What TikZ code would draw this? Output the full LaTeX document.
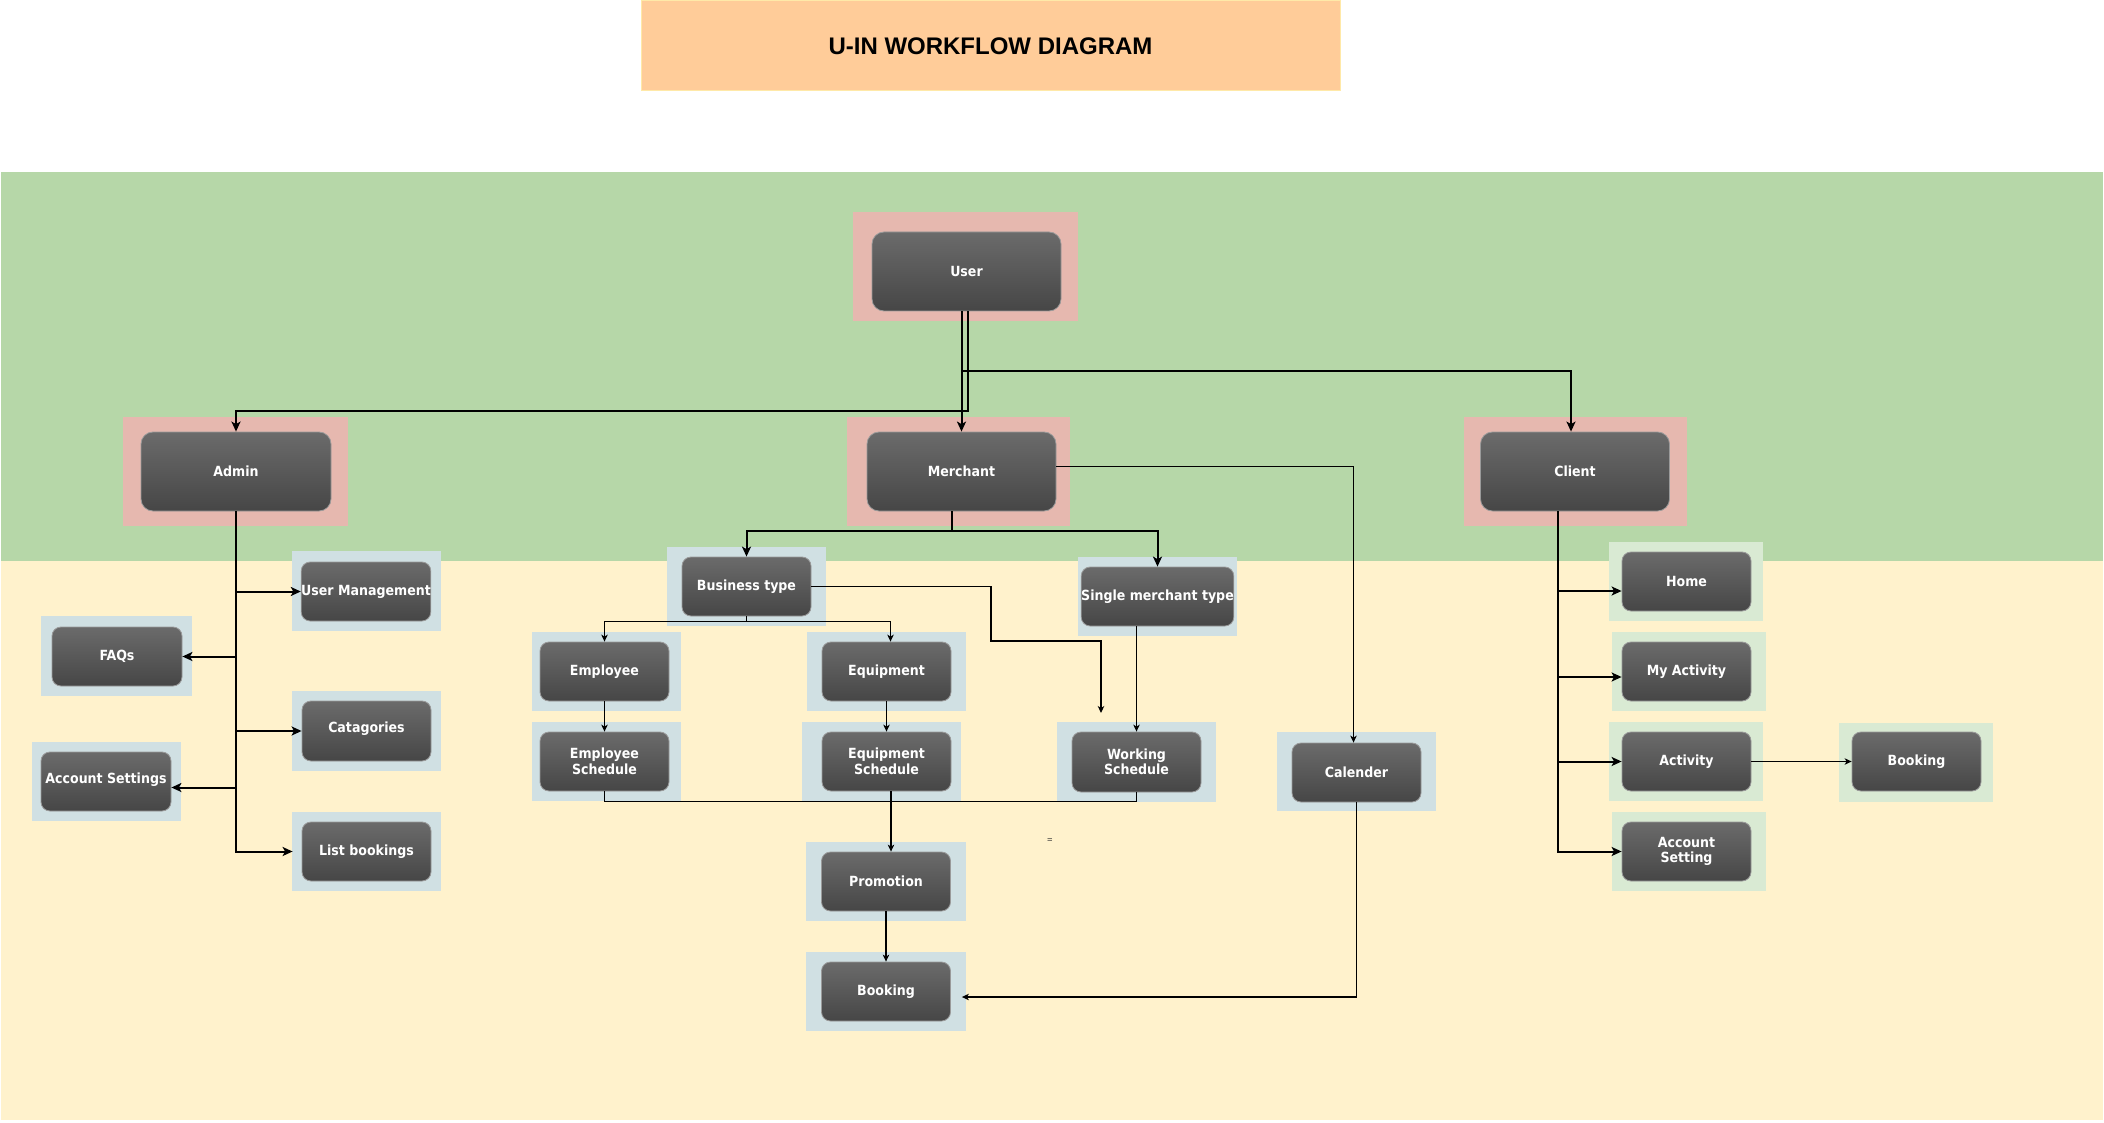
\documentclass[tikz,border=0pt]{standalone}
\usepackage{fontspec}
\usetikzlibrary{arrows.meta}
\newfontfamily\nodefont{DejaVu Sans Condensed}
\newfontfamily\titlefont{Liberation Sans}
\definecolor{bggreen}{HTML}{B6D7A8}
\definecolor{bgyellow}{HTML}{FFF2CC}
\definecolor{pinkc}{HTML}{E6B8AF}
\definecolor{bluec}{HTML}{D0E0E3}
\definecolor{lgreenc}{HTML}{D9EAD3}
\definecolor{titlec}{HTML}{FFCC99}
\definecolor{titleb}{HTML}{FFE9A8}
\definecolor{dktop}{HTML}{6B6B6B}
\definecolor{dkbot}{HTML}{464646}
\definecolor{dkline}{HTML}{9A9A9A}
\begin{document}
\begin{tikzpicture}[x=1pt,y=-1pt,
  dk/.style={rectangle, rounded corners=9pt, draw=dkline, line width=0.8pt,
    top color=dktop, bottom color=dkbot, text=white,
    font={\nodefont\bfseries\fontsize{14}{15.5}\selectfont}, align=center,
    inner sep=0pt, minimum width=129pt, minimum height=59pt},
  dkbig/.style={dk, rounded corners=12pt, minimum width=189pt, minimum height=79pt},
  tk/.style={line width=2pt, -{Stealth[length=10pt,width=9pt,inset=2.5pt]}},
  tkl/.style={line width=2pt},
  tn/.style={line width=1.1pt, -{Stealth[length=7pt,width=6.5pt,inset=2pt]}},
  tnl/.style={line width=1.1pt}
]
\useasboundingbox (0,0) rectangle (2104,1123);
% backgrounds
\fill[bggreen] (1,172) rectangle (2103,561);
\fill[bgyellow] (1,561) rectangle (2103,1120);
% title
\node[fill=titlec, draw=titleb, line width=1pt, minimum width=699pt, minimum height=90pt,
  font={\titlefont\bfseries\fontsize{24}{28}\selectfont}] (title) at (990.5,46) {U-IN WORKFLOW DIAGRAM};
% outer frames
\fill[pinkc] (853,212) rectangle (1078,321);
\fill[pinkc] (123,417) rectangle (348,526);
\fill[pinkc] (847,417) rectangle (1070,526);
\fill[pinkc] (1464,417) rectangle (1687,526);
\fill[bluec] (292,551) rectangle (441,631);
\fill[bluec] (41,616) rectangle (192,696);
\fill[bluec] (292,691) rectangle (441,771);
\fill[bluec] (32,742) rectangle (181,821);
\fill[bluec] (292,812) rectangle (441,891);
\fill[bluec] (667,547) rectangle (826,626);
\fill[bluec] (1078,557) rectangle (1237,636);
\fill[bluec] (532,632) rectangle (681,711);
\fill[bluec] (532,722) rectangle (681,801);
\fill[bluec] (807,632) rectangle (966,711);
\fill[bluec] (802,722) rectangle (961,801);
\fill[bluec] (1057,722) rectangle (1216,802);
\fill[bluec] (1277,732) rectangle (1436,811);
\fill[bluec] (806,842) rectangle (966,921);
\fill[bluec] (806,952) rectangle (966,1031);
\fill[lgreenc] (1609,542) rectangle (1763,621);
\fill[lgreenc] (1612,632) rectangle (1766,711);
\fill[lgreenc] (1609,722) rectangle (1763,801);
\fill[lgreenc] (1612,812) rectangle (1766,891);
\fill[lgreenc] (1839,723) rectangle (1993,802);
% main nodes
\node[dkbig] (user) at (966.5,271.5) {User};
\node[dkbig, minimum width=190pt] (admin) at (236,471.5) {Admin};
\node[dkbig] (merchant) at (961.5,471.5) {Merchant};
\node[dkbig] (client) at (1575,471.5) {Client};
% admin children
\node[dk] (usermgmt) at (366,591.5) {User Management};
\node[dk, minimum width=130pt] (faqs) at (117,656.5) {FAQs};
\node[dk, minimum height=60pt] (cat) at (366.5,731) {\raisebox{7pt}{Catagories}};
\node[dk, minimum width=130pt] (accset) at (106,781.5) {\raisebox{7pt}{Account Settings}};
\node[dk] (listb) at (366.5,851.5) {List bookings};
% merchant children
\node[dk] (bt) at (746.5,586.5) {Business type};
\node[dk, minimum width=139pt] (smt) at (1157.5,596.5) {Single merchant type};
\node[dk] (emp) at (604.5,671.5) {Employee};
\node[dk] (empsch) at (604.5,761.5) {Employee\\Schedule};
\node[dk] (eq) at (886.5,671.5) {Equipment};
\node[dk] (eqsch) at (886.5,761.5) {Equipment\\Schedule};
\node[dk, minimum height=60pt] (ws) at (1136.5,762) {Working\\Schedule};
\node[dk] (cal) at (1356.5,772.5) {Calender};
\node[dk] (promo) at (886,881.5) {Promotion};
\node[dk] (mbook) at (886,991.5) {Booking};
% client children
\node[dk] (home) at (1686.5,581.5) {Home};
\node[dk] (myact) at (1686.5,671.5) {My Activity};
\node[dk] (act) at (1686.5,761.5) {Activity};
\node[dk] (accsetting) at (1686.5,851.5) {Account\\Setting};
\node[dk] (cbook) at (1916.5,761.5) {Booking};
% small text
\node[font={\nodefont\fontsize{8}{9}\selectfont}, text=black!80, inner sep=0pt] (eqsign) at (1050,841) {=};
% user connectors
\draw[tk] ([xshift=1pt]user.south) |- (admin.north |- 0,411) -- (admin.north);
\draw[tk] (merchant.north |- user.south) -- (merchant.north);
\draw[tk] (merchant.north |- user.south) |- ([xshift=-4pt]client.north |- 0,371) -- ([xshift=-4pt]client.north);
% merchant connectors
\draw[tk] ([xshift=-10pt]merchant.south) -- ++(0,20) -| (bt.north);
\draw[tk] ([xshift=-10pt]merchant.south) -- ++(0,20) -| (smt.north);
\draw[tn] ([yshift=5pt]merchant.east) -| ([xshift=-3pt]cal.north);
\draw[tn] (bt.south) -- ++(0,5) -| (emp.north);
\draw[tn] (bt.south) -- ++(0,5) -| ([xshift=4pt]eq.north);
\draw[tn] (emp.south) -- (empsch.north);
\draw[tn] (eq.south) -- (eqsch.north);
\coordinate (wsin) at (1101,713);
\draw[tn] (bt.east) -| (991,641) -| (wsin);
\draw[tn] (ws.north |- smt.south) -- (ws.north);
\draw[tnl] (empsch.south) -- ++(0,10) -| (ws.south);
\draw[tn] ([xshift=4.5pt]eqsch.south) -- ([xshift=5pt]promo.north);
\draw[tn] (promo.south) -- (mbook.north);
\draw[tn] (cal.south) |- ([xshift=11pt,yshift=-5.5pt]mbook.east);
% admin connectors
\draw[tk] (admin.south) |- (usermgmt.west);
\draw[tk] (admin.south) |- (faqs.east);
\draw[tk] (admin.south) |- (cat.west);
\draw[tk] (admin.south) |- ([yshift=-6pt]accset.east);
\draw[tk] (admin.south) |- ([xshift=-9pt]listb.west);
% client connectors
\draw[tk] ([xshift=-17pt]client.south) |- ([yshift=-9.5pt]home.west);
\draw[tk] ([xshift=-17pt]client.south) |- ([yshift=-5.5pt]myact.west);
\draw[tk] ([xshift=-17pt]client.south) |- (act.west);
\draw[tk] ([xshift=-17pt]client.south) |- (accsetting.west);
\draw[tn] (act.east) -- (cbook.west);
\end{tikzpicture}
\end{document}
